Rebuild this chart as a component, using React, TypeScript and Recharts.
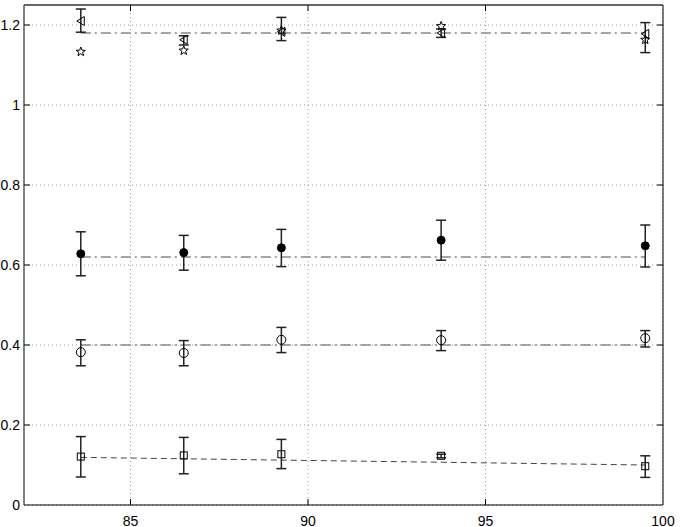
import React from "react";
import {
  ComposedChart,
  XAxis,
  YAxis,
  CartesianGrid,
  Scatter,
  ErrorBar,
  Line,
  ReferenceLine,
} from "recharts";

// ---- data ----
const xs = [83.6, 86.5, 89.25, 93.75, 99.5];

const triMean = [1.21, 1.163, 1.183, 1.18, 1.178];
const triLow = [1.182, 1.15, 1.161, 1.169, 1.131];
const triHigh = [1.24, 1.173, 1.219, 1.19, 1.206];

const starVals = [1.133, 1.136, 1.186, 1.197, 1.163];

const dotMean = [0.628, 0.631, 0.643, 0.662, 0.648];
const dotLow = [0.573, 0.587, 0.596, 0.612, 0.595];
const dotHigh = [0.683, 0.674, 0.689, 0.712, 0.7];

const circMean = [0.382, 0.38, 0.413, 0.412, 0.417];
const circLow = [0.348, 0.348, 0.381, 0.386, 0.395];
const circHigh = [0.413, 0.411, 0.444, 0.436, 0.436];

const sqMean = [0.121, 0.124, 0.127, 0.123, 0.097];
const sqLow = [0.07, 0.078, 0.091, 0.118, 0.069];
const sqHigh = [0.171, 0.169, 0.164, 0.127, 0.123];

const fitX = [83.6, 99.5];
const fitTop = [1.18, 1.18];
const fitDot = [0.62, 0.62];
const fitCirc = [0.4, 0.4];
const fitSq = [0.119, 0.1];

const xTicks = [85, 90, 95, 100];
const yTicks = [0, 0.2, 0.4, 0.6, 0.8, 1, 1.2];
const xDomain = [82, 100];
const yDomain = [0, 1.25];

// ---- helpers ----
const withErr = (mean: number[], low: number[], high: number[]) =>
  xs.map((x, i) => ({ x, y: mean[i], err: [mean[i] - low[i], high[i] - mean[i]] }));
const plain = (vals: number[]) => xs.map((x, i) => ({ x, y: vals[i] }));
const fitData = (vals: number[]) => fitX.map((x, i) => ({ x, y: vals[i] }));

const triData = withErr(triMean, triLow, triHigh);
const starData = plain(starVals);
const dotData = withErr(dotMean, dotLow, dotHigh);
const circData = withErr(circMean, circLow, circHigh);
const sqData = withErr(sqMean, sqLow, sqHigh);

const TriLeft = (p: any) => {
  const { cx, cy } = p;
  return (
    <polygon
      points={`${cx - 4},${cy} ${cx + 3.5},${cy - 4.5} ${cx + 3.5},${cy + 4.5}`}
      fill="none"
      stroke="#000"
      strokeWidth={1}
    />
  );
};

const Star = (p: any) => {
  const { cx, cy } = p;
  const pts: string[] = [];
  for (let k = 0; k < 10; k++) {
    const r = k % 2 === 0 ? 4.8 : 2.0;
    const a = -Math.PI / 2 + (k * Math.PI) / 5;
    pts.push(`${cx + r * Math.cos(a)},${cy + r * Math.sin(a)}`);
  }
  return <polygon points={pts.join(" ")} fill="none" stroke="#000" strokeWidth={1} />;
};

const FilledDot = (p: any) => <circle cx={p.cx} cy={p.cy} r={4} fill="#000" stroke="#000" />;
const OpenCircle = (p: any) => (
  <circle cx={p.cx} cy={p.cy} r={4.5} fill="none" stroke="#000" strokeWidth={1} />
);
const Square = (p: any) => (
  <rect x={p.cx - 3.5} y={p.cy - 3.5} width={7} height={7} fill="none" stroke="#000" strokeWidth={1} />
);

const xTickLen = 0.17;
const yTickLen = 0.015;

export default function App() {
  return (
    <div style={{ position: "absolute", left: 0, top: 0, background: "#fff" }}>
      <ComposedChart
        width={681}
        height={527}
        margin={{ top: 5, right: 18, bottom: 0, left: 0 }}
        style={{ fontFamily: "'Liberation Sans', Arial, sans-serif" }}
      >
        <CartesianGrid stroke="#999" strokeDasharray="1 3" />
        <XAxis
          dataKey="x"
          type="number"
          domain={xDomain}
          ticks={xTicks}
          allowDataOverflow
          height={22}
          tickSize={0}
          tickMargin={11}
          axisLine={{ stroke: "#000", strokeWidth: 1 }}
          tick={{ fill: "#000", fontSize: 14 }}
        />
        <YAxis
          dataKey="y"
          type="number"
          domain={yDomain}
          ticks={yTicks}
          allowDataOverflow
          width={24}
          tickSize={0}
          tickMargin={4}
          tickFormatter={(v: number) => String(v)}
          axisLine={{ stroke: "#333", strokeWidth: 1.2 }}
          tick={{ fill: "#000", fontSize: 14 }}
        />
        {/* box: top and right */}
        <ReferenceLine y={yDomain[1]} stroke="#666" strokeWidth={2} ifOverflow="visible" />
        <ReferenceLine x={xDomain[1]} stroke="#000" strokeWidth={1} ifOverflow="visible" />
        {/* inward ticks */}
        {xTicks.slice(0, 3).map((t) => (
          <ReferenceLine
            key={"bx" + t}
            segment={[{ x: t, y: yDomain[0] }, { x: t, y: yDomain[0] + yTickLen }]}
            stroke="#000"
            ifOverflow="visible"
          />
        ))}
        {xTicks.slice(0, 3).map((t) => (
          <ReferenceLine
            key={"tx" + t}
            segment={[{ x: t, y: yDomain[1] }, { x: t, y: yDomain[1] - yTickLen }]}
            stroke="#000"
            ifOverflow="visible"
          />
        ))}
        {yTicks.slice(1).map((t) => (
          <ReferenceLine
            key={"ly" + t}
            segment={[{ x: xDomain[0], y: t }, { x: xDomain[0] + xTickLen, y: t }]}
            stroke="#000"
            ifOverflow="visible"
          />
        ))}
        {yTicks.slice(1).map((t) => (
          <ReferenceLine
            key={"ry" + t}
            segment={[{ x: xDomain[1], y: t }, { x: xDomain[1] - xTickLen, y: t }]}
            stroke="#000"
            ifOverflow="visible"
          />
        ))}
        {/* fit lines */}
        <Line data={fitData(fitTop)} dataKey="y" type="linear" dot={false} stroke="#888" strokeWidth={1.5} strokeDasharray="10 4 2 4" isAnimationActive={false} />
        <Line data={fitData(fitDot)} dataKey="y" type="linear" dot={false} stroke="#888" strokeWidth={1.5} strokeDasharray="10 4 2 4" isAnimationActive={false} />
        <Line data={fitData(fitCirc)} dataKey="y" type="linear" dot={false} stroke="#888" strokeWidth={1.5} strokeDasharray="10 4 2 4" isAnimationActive={false} />
        <Line data={fitData(fitSq)} dataKey="y" type="linear" dot={false} stroke="#444" strokeWidth={1} strokeDasharray="6 4" isAnimationActive={false} />
        {/* series */}
        <Scatter data={triData} dataKey="y" shape={TriLeft} isAnimationActive={false}>
          <ErrorBar dataKey="err" direction="y" stroke="#222" width={5} />
        </Scatter>
        <Scatter data={starData} dataKey="y" shape={Star} isAnimationActive={false} />
        <Scatter data={dotData} dataKey="y" shape={FilledDot} isAnimationActive={false}>
          <ErrorBar dataKey="err" direction="y" stroke="#222" width={5} />
        </Scatter>
        <Scatter data={circData} dataKey="y" shape={OpenCircle} isAnimationActive={false}>
          <ErrorBar dataKey="err" direction="y" stroke="#222" width={5} />
        </Scatter>
        <Scatter data={sqData} dataKey="y" shape={Square} isAnimationActive={false}>
          <ErrorBar dataKey="err" direction="y" stroke="#222" width={5} />
        </Scatter>
      </ComposedChart>
    </div>
  );
}
